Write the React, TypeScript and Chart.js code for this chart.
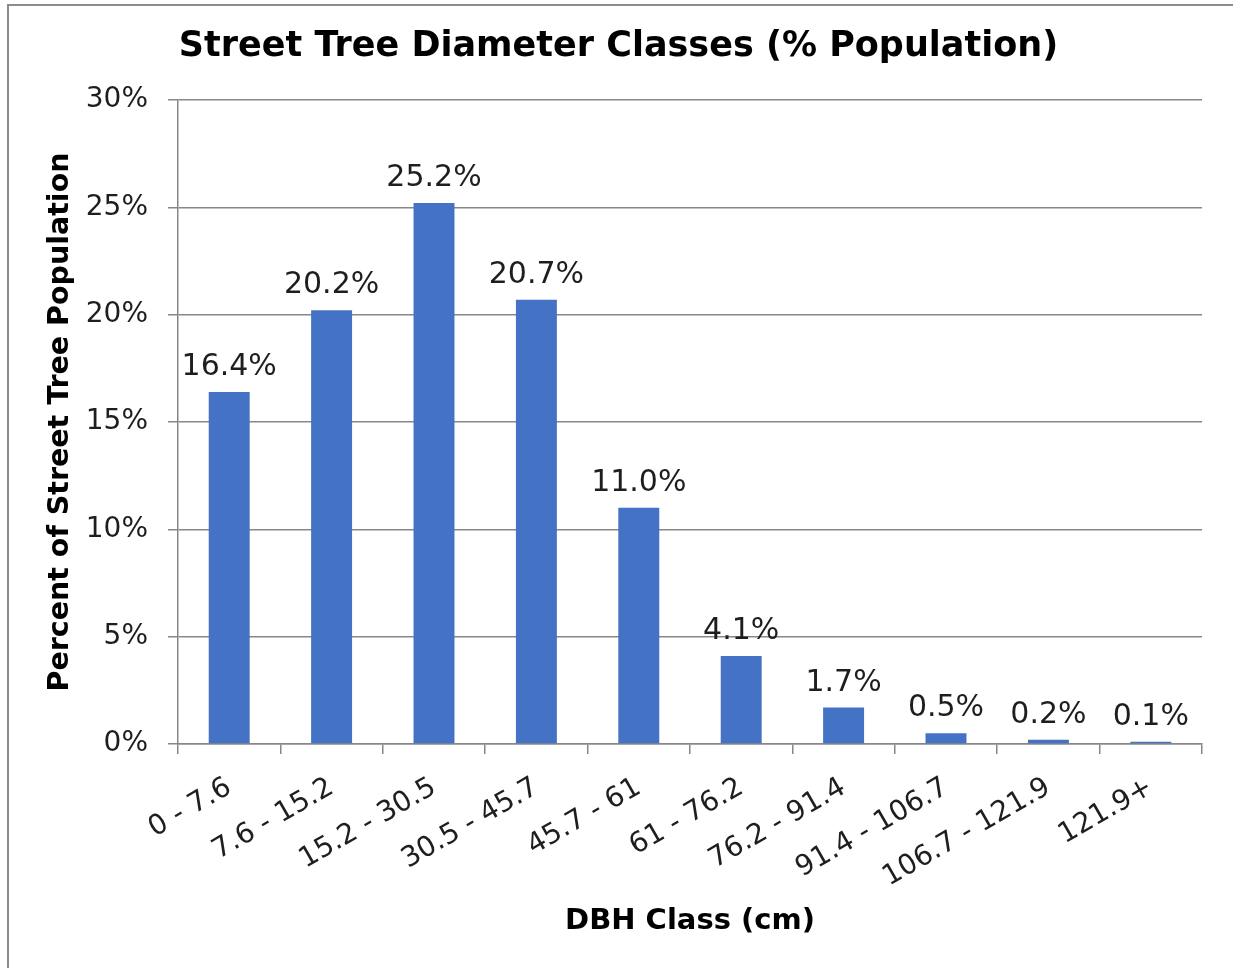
import React, { useEffect, useRef } from "react";
import { Chart, registerables } from "chart.js";

Chart.register(...registerables);

const categories = [
  "0 - 7.6",
  "7.6 - 15.2",
  "15.2 - 30.5",
  "30.5 - 45.7",
  "45.7 - 61",
  "61 - 76.2",
  "76.2 - 91.4",
  "91.4 - 106.7",
  "106.7 - 121.9",
  "121.9+",
];
const percentValues = [16.4, 20.2, 25.2, 20.7, 11.0, 4.1, 1.7, 0.5, 0.2, 0.1];
const yTickValues = [0, 5, 10, 15, 20, 25, 30];

const FONT = "'DejaVu Sans', Verdana, sans-serif";
const GRID = "#878787";
const TEXT = "#1e1e1e";
const BAR = "#4472C4";

const W = 1233;
const H = 968;
const PLOT_LEFT = 178;
const PLOT_BOTTOM = 744;
const PAD_LEFT = 35;

const frameBorder = {
  id: "frameBorder",
  beforeDraw(chart: any) {
    const ctx = chart.ctx;
    ctx.save();
    ctx.fillStyle = "#ffffff";
    ctx.fillRect(0, 0, chart.width, chart.height);
    ctx.strokeStyle = "#8c8c8c";
    ctx.lineWidth = 2;
    ctx.beginPath();
    ctx.moveTo(8, chart.height);
    ctx.lineTo(8, 5);
    ctx.lineTo(chart.width, 5);
    ctx.stroke();
    ctx.restore();
  },
};

const dataLabels = {
  id: "dataLabels",
  afterDatasetsDraw(chart: any) {
    const ctx = chart.ctx;
    const meta = chart.getDatasetMeta(0);
    const values = chart.data.datasets[0].data as number[];
    ctx.save();
    ctx.font = `30px ${FONT}`;
    ctx.fillStyle = TEXT;
    ctx.textAlign = "center";
    ctx.textBaseline = "alphabetic";
    meta.data.forEach((bar: any, i: number) => {
      ctx.fillText(values[i].toFixed(1) + "%", bar.x, bar.y - 17);
    });
    ctx.restore();
  },
};

export default function App() {
  const ref = useRef<HTMLCanvasElement | null>(null);

  useEffect(() => {
    document.body.style.margin = "0";
    document.body.style.overflow = "hidden";
    const canvas = ref.current!;
    const chart = new Chart(canvas, {
      type: "bar",
      data: {
        labels: categories,
        datasets: [
          {
            data: percentValues,
            backgroundColor: BAR,
            borderWidth: 0,
            barPercentage: 0.4,
            categoryPercentage: 1,
          },
        ],
      },
      options: {
        responsive: false,
        animation: false,
        devicePixelRatio: 1,
        layout: { padding: { left: PAD_LEFT, right: W - 1202, top: 0, bottom: 0 } },
        plugins: {
          legend: { display: false },
          tooltip: { enabled: false },
          title: {
            display: true,
            text: "Street Tree Diameter Classes (% Population)",
            color: "#000",
            font: { family: FONT, size: 35, weight: "bold", lineHeight: 1.2 },
            padding: { top: 26, bottom: 32 },
          },
        },
        scales: {
          x: {
            grid: {
              display: true,
              drawOnChartArea: false,
              drawTicks: true,
              tickLength: 10,
              color: GRID,
              lineWidth: 1.5,
            },
            border: { display: true, color: GRID, width: 1.5 },
            ticks: {
              autoSkip: false,
              maxRotation: 30,
              minRotation: 30,
              color: TEXT,
              font: { family: FONT, size: 28 },
              padding: 17,
            },
            title: {
              display: true,
              text: "DBH Class (cm)",
              color: "#000",
              font: { family: FONT, size: 29, weight: "bold", lineHeight: 1.2 },
              padding: { top: 0, bottom: 29 },
            },
            afterFit(scale: any) {
              scale.height = H - PLOT_BOTTOM;
            },
          },
          y: {
            min: 0,
            max: 30,
            afterBuildTicks(scale: any) {
              scale.ticks = yTickValues.map((v) => ({ value: v }));
            },
            grid: {
              color: GRID,
              lineWidth: 1.5,
              drawTicks: true,
              tickLength: 10,
            },
            border: { display: true, color: GRID, width: 1.5 },
            ticks: {
              color: TEXT,
              font: { family: FONT, size: 28 },
              padding: 20,
              callback: (v: any) => v + "%",
            },
            title: {
              display: true,
              text: "Percent of Street Tree Population",
              color: "#000",
              font: { family: FONT, size: 28.5, weight: "bold", lineHeight: 1.2 },
              padding: { top: 8, bottom: 0 },
            },
            afterFit(scale: any) {
              scale.width = PLOT_LEFT - PAD_LEFT;
            },
          },
        },
      },
      plugins: [frameBorder, dataLabels],
    });
    return () => chart.destroy();
  }, []);

  return (
    <div style={{ width: W, height: H, position: "relative" }}>
      <canvas ref={ref} width={W} height={H} style={{ width: W, height: H, display: "block" }} />
    </div>
  );
}
